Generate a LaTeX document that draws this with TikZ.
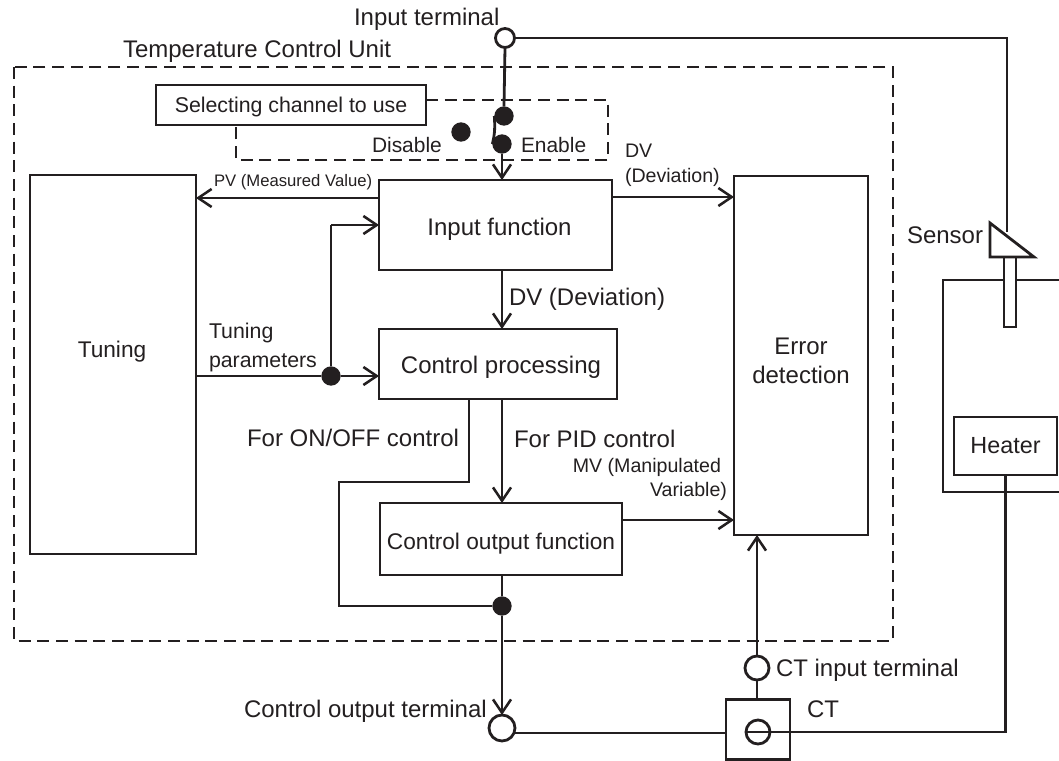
\documentclass[tikz,border=0pt]{standalone}
\usepackage{fontspec}
\setmainfont{Liberation Sans}
\usetikzlibrary{arrows.meta}
\definecolor{ink}{HTML}{231F20}
\tikzset{
  wire/.style={draw=ink,line width=2.1pt},
  arrowed/.style={wire,-{Straight Barb[length=10pt,width=13.5pt,line width=1.9pt]}},
  dashedline/.style={draw=ink,line width=1.9pt,dash pattern=on 9pt off 5pt},
  blockbox/.style 2 args={draw=ink,line width=2.1pt,fill=white,inner sep=0pt,outer sep=0pt,text=ink,align=center,minimum width=#1*0.75pt,minimum height=#2*0.75pt,font=\fontsize{17.5}{26}\selectfont},
  dot/.style={circle,fill=ink,draw=none,inner sep=0pt,outer sep=0pt,minimum size=14.5pt},
  terminal/.style={circle,fill=white,draw=ink,line width=2.1pt,inner sep=0pt,outer sep=0pt,minimum size=#1*0.75pt},
  lab/.style={text=ink,inner sep=0pt,outer sep=0pt,anchor=base west,font=\fontsize{18}{20}\selectfont},
  small/.style={text=ink,inner sep=0pt,outer sep=0pt,font=\fontsize{14.7}{18}\selectfont},
}
\begin{document}
\begin{tikzpicture}[x=0.75pt,y=-0.75pt]
\useasboundingbox (0,0) rectangle (1059,760);
% outer dashed unit
\coordinate (unitNW) at (14,67);
\coordinate (unitSE) at (893,641);
\draw[dashedline] (unitNW) rectangle (unitSE);
% tank
\coordinate (tankTR) at (1059,280);
\coordinate (tankTL) at (943,280);
\coordinate (tankBL) at (943,492);
\coordinate (tankBR) at (1059,492);
\draw[wire,line join=miter] (tankTR) -- (tankTL) -- (tankBL) -- (tankBR);
% boxes
\node[blockbox={270}{40}] (seln) at (291,105) {};
\node[lab,font=\fontsize{16}{20}\selectfont,anchor=base] (sel) at (291,112) {Selecting channel to use};
\node[blockbox={166}{379}] (tuningb) at (113,364.5) {};
\node[lab,font=\fontsize{17}{20}\selectfont,anchor=base] (tuningt) at (112,357) {Tuning};
\node[blockbox={233}{90}] (input) at (495.5,225) {};
\node[lab,anchor=base] (inputt) at (499.5,235) {Input function};
\node[blockbox={238}{70}] (proc) at (498,364) {};
\node[lab,anchor=base] (proct) at (501,373.5) {Control processing};
\node[blockbox={242}{72}] (out) at (501,539) {};
\node[lab,font=\fontsize{17}{20}\selectfont,anchor=base] (outt) at (501,549) {Control output function};
\node[blockbox={134}{359}] (err) at (801,355.5) {};
\node[lab,anchor=base] (errt) at (801,354) {Error};
\node[lab,anchor=base] (errtb) at (801,383) {detection};
\node[blockbox={103}{58}] (heater) at (1005.5,446) {Heater};
\node[blockbox={64}{60}] (ct) at (758,729.5) {};
% select dashed region
\coordinate (dNE) at (608,100);
\coordinate (dSE) at (608,160);
\coordinate (dSW) at (236,160);
\draw[dashedline] (seln.east |- dNE) -- (dNE) -- (dSE) -- (dSW) -- (seln.south -| dSW);
% terminals and dots
\node[terminal=19] (tin) at (505,38) {};
\node[terminal=26] (tout) at (502,728) {};
\node[terminal=24] (tct) at (757,668) {};
\node[terminal=24] (ctc) at (758,732) {};
\node[dot] (swa) at (504,116) {};
\node[dot] (swb) at (502,144) {};
\node[dot] (swd) at (461,132) {};
\node[dot] (jt) at (331,376) {};
\node[dot] (jo) at (502,606) {};
% sensor
\coordinate (wireS) at (1007,232);
\coordinate (tubeTL) at (1004,257);
\coordinate (tubeBR) at (1016,327);
\draw[wire] (tin.east) -- (tin.east -| wireS) -- (wireS);
\draw[wire,fill=white,line join=miter] (tubeTL) rectangle (tubeBR);
\coordinate (triA) at (990,223);
\coordinate (triB) at (990,257);
\coordinate (triC) at (1034,257);
\draw[wire,fill=white,line join=miter] (triA) -- (triB) -- (triC) -- cycle;
% switch
\draw[wire] (tin.south) -- (swa.north);
\draw[wire] (swa.west) .. controls (495,126) and (495,134) .. (swb.west);
% connectors
\draw[arrowed] (swb.south) -- (swb.south |- input.north);
\coordinate (pvR) at (input.west |- 0,198);
\draw[arrowed] (pvR) -- (pvR -| tuningb.east);
\coordinate (dvL) at (input.east |- 0,197);
\draw[arrowed] (dvL) -- (dvL -| err.west);
\coordinate (dvT) at (502,0);
\draw[arrowed] (dvT |- input.south) -- (dvT |- proc.north);
\draw[arrowed] (tuningb.east |- jt) -- (jt) -- (jt -| proc.west);
\coordinate (tp) at (331,225);
\draw[wire,-] (jt) -- (tp);
\draw[arrowed] (tp) -- (tp -| input.west);
\draw[arrowed] (dvT |- proc.south) -- (dvT |- out.north);
\coordinate (onA) at (469,482);
\coordinate (onB) at (339,482);
\coordinate (onC) at (339,606);
\draw[wire,line join=miter] (onA |- proc.south) -- (onA) -- (onB) -- (onC) -- (jo);
\draw[wire] (jo |- out.south) -- (jo);
\draw[arrowed] (jo) -- (tout.north);
\coordinate (mv) at (622,520);
\draw[arrowed] (out.east |- mv) -- (mv -| err.west);
\draw[arrowed] (tct.north) -- (tct.north |- err.south);
\draw[wire] (tct.south) -- (tct.south |- ct.north);
\draw[wire] (tout.east |- 0,733) -- (ct.west |- 0,733);
\draw[wire] (ctc.west) -- (ctc.west -| heater.south) -- (heater.south);
% labels
\node[lab] (l1) at (354,26) {Input terminal};
\node[lab] (l2) at (123,57) {Temperature Control Unit};
\node[lab,font=\fontsize{15.7}{20}\selectfont] (l3) at (372,152) {Disable};
\node[lab,font=\fontsize{15.7}{20}\selectfont] (l4) at (521,152) {Enable};
\node[small,anchor=base west] (l5) at (625,157) {DV};
\node[small,anchor=base west] (l5b) at (625,182) {(Deviation)};
\node[lab,font=\fontsize{12.5}{15}\selectfont] (l6) at (214,186) {PV (Measured Value)};
\node[lab] (l7) at (509,305) {DV (Deviation)};
\node[lab,font=\fontsize{16}{20}\selectfont] (l8) at (209,338) {Tuning};
\node[lab,font=\fontsize{16}{20}\selectfont] (l8b) at (209,367) {parameters};
\node[lab] (l9) at (247,446) {For ON/OFF control};
\node[lab] (l10) at (514,447) {For PID control};
\node[small,anchor=base east] (l11) at (721,472) {MV (Manipulated};
\node[small,anchor=base east] (l11b) at (727,496) {Variable)};
\node[lab] (l12) at (907,243) {Sensor};
\node[lab] (l13) at (776,676) {CT input terminal};
\node[lab] (l14) at (244,717) {Control output terminal};
\node[lab] (l15) at (807,717) {CT};
\end{tikzpicture}
\end{document}
